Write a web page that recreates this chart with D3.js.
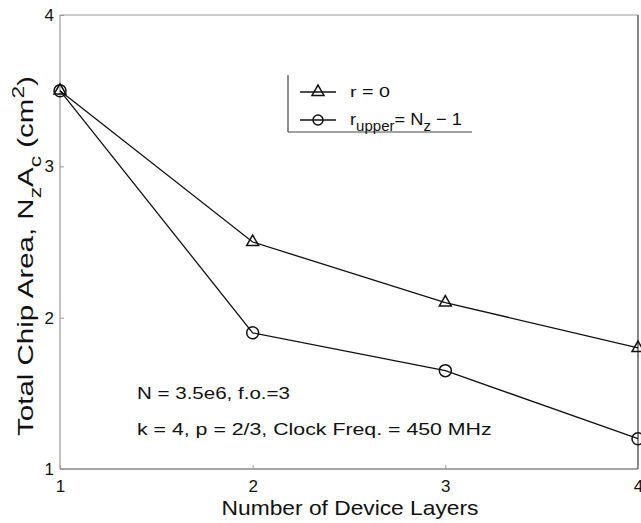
<!DOCTYPE html>
<html><head><meta charset="utf-8">
<script src="https://cdn.jsdelivr.net/npm/d3@7"></script>
<style>body{margin:0;background:#fff}svg{display:block}text{font-family:"Liberation Sans",Arial,sans-serif;fill:#111}</style>
</head><body><svg id="c" width="641" height="523"></svg>
<script>
const layers = [1, 2, 3, 4];
const rZero = [3.5, 2.5, 2.1, 1.8];
const rUpper = [3.5, 1.9, 1.65, 1.2];
const xTicks = [1, 2, 3, 4];
const yTicks = [1, 2, 3, 4];

const svg = d3.select("#c");
const L = 60, R = 638, T = 15, B = 469;
const x = d3.scaleLinear().domain([1, 4]).range([L, R]);
const y = d3.scaleLinear().domain([1, 4]).range([B, T]);

// stretch a text horizontally (in its own frame) to a target length
function fit(t, x0, y0, target, rot) {
  const w = t.node().getBBox().width;
  const s = target / w;
  t.attr("transform", `translate(${x0},${y0})` + (rot ? ` rotate(${rot})` : "") + ` scale(${s},1)`);
}

// frame
svg.append("line").attr("x1", L).attr("x2", R).attr("y1", T).attr("y2", T).attr("stroke", "#999").attr("stroke-width", 1.2);
svg.append("line").attr("x1", L).attr("x2", L).attr("y1", T).attr("y2", B).attr("stroke", "#999").attr("stroke-width", 1.2);
svg.append("line").attr("x1", L).attr("x2", R).attr("y1", B).attr("y2", B).attr("stroke", "#888").attr("stroke-width", 1.4);
svg.append("line").attr("x1", R).attr("x2", R).attr("y1", T).attr("y2", B).attr("stroke", "#555").attr("stroke-width", 1.4);

// ticks (inward, small)
const gx = svg.append("g").attr("transform", `translate(0,${B})`)
  .call(d3.axisBottom(x).tickValues(xTicks).tickSize(-4).tickPadding(11).tickFormat(d3.format("d")));
gx.select(".domain").remove();
gx.selectAll("line").attr("stroke", "#999");
gx.selectAll("text").attr("font-size", 17).style("font-family", "Liberation Sans, Arial, sans-serif").attr("fill", "#111");

const gy = svg.append("g").attr("transform", `translate(${L},0)`)
  .call(d3.axisLeft(y).tickValues(yTicks).tickSize(-4).tickPadding(6).tickFormat(d3.format("d")));
gy.select(".domain").remove();
gy.selectAll("line").attr("stroke", "#999");
gy.selectAll("text").attr("font-size", 17).style("font-family", "Liberation Sans, Arial, sans-serif").attr("fill", "#111");

// lines
const line = d3.line().x((d, i) => x(layers[i])).y(d => y(d));
[rZero, rUpper].forEach(s => {
  svg.append("path").datum(s).attr("d", line).attr("fill", "none").attr("stroke", "#111").attr("stroke-width", 1.3);
});

const tri = d3.symbol().type(d3.symbolTriangle).size(62);
svg.selectAll(".tri").data(rZero).enter().append("path")
  .attr("transform", (d, i) => `translate(${x(layers[i])},${y(d)})`)
  .attr("d", tri).attr("fill", "none").attr("stroke", "#111").attr("stroke-width", 1.5);
svg.selectAll(".circ").data(rUpper).enter().append("circle")
  .attr("cx", (d, i) => x(layers[i])).attr("cy", d => y(d)).attr("r", 6)
  .attr("fill", "none").attr("stroke", "#111").attr("stroke-width", 1.5);

// legend
const lg = svg.append("g");
lg.append("line").attr("x1", 288).attr("x2", 288).attr("y1", 75).attr("y2", 132).attr("stroke", "#444").attr("stroke-width", 1.2);
lg.append("line").attr("x1", 288).attr("x2", 472).attr("y1", 132).attr("y2", 132).attr("stroke", "#444").attr("stroke-width", 1.2);
lg.append("line").attr("x1", 300).attr("x2", 336).attr("y1", 92).attr("y2", 92).attr("stroke", "#111").attr("stroke-width", 1.3);
lg.append("path").attr("transform", "translate(318,92)").attr("d", tri).attr("fill", "none").attr("stroke", "#111").attr("stroke-width", 1.5);
lg.append("line").attr("x1", 300).attr("x2", 336).attr("y1", 120).attr("y2", 120).attr("stroke", "#111").attr("stroke-width", 1.3);
lg.append("circle").attr("cx", 318).attr("cy", 120).attr("r", 5).attr("fill", "none").attr("stroke", "#111").attr("stroke-width", 1.5);
const t1 = lg.append("text").attr("font-size", 15).text("r = 0");
fit(t1, 350, 97, 40);
const t2 = lg.append("text").attr("font-size", 17);
t2.append("tspan").text("r");
t2.append("tspan").attr("dy", 6).attr("font-size", 14).text("upper");
t2.append("tspan").attr("dy", -6).text("= N");
t2.append("tspan").attr("dy", 6).attr("font-size", 14).text("z");
t2.append("tspan").attr("dy", -6).text(" \u2212 1");
fit(t2, 350, 125, 112);

// annotations
const a1 = svg.append("text").attr("font-size", 17).text("N = 3.5e6, f.o.=3");
fit(a1, 137, 399, 153);
const a2 = svg.append("text").attr("font-size", 17).text("k = 4, p = 2/3, Clock Freq. = 450 MHz");
fit(a2, 137, 435, 355);

// axis titles
const xl = svg.append("text").attr("text-anchor", "middle").attr("font-size", 21).text("Number of Device Layers");
fit(xl, 350, 515, 257);
const yl = svg.append("text").attr("text-anchor", "middle").attr("font-size", 22);
yl.append("tspan").text("Total Chip Area, N");
yl.append("tspan").attr("dy", 8).attr("font-size", 17).text("z");
yl.append("tspan").attr("dy", -8).text("A");
yl.append("tspan").attr("dy", 8).attr("font-size", 17).text("c");
yl.append("tspan").attr("dy", -8).text(" (cm");
yl.append("tspan").attr("dy", -9).attr("font-size", 17).text("2");
yl.append("tspan").attr("dy", 9).text(")");
fit(yl, 33, 256, 360, -90);
</script></body></html>
